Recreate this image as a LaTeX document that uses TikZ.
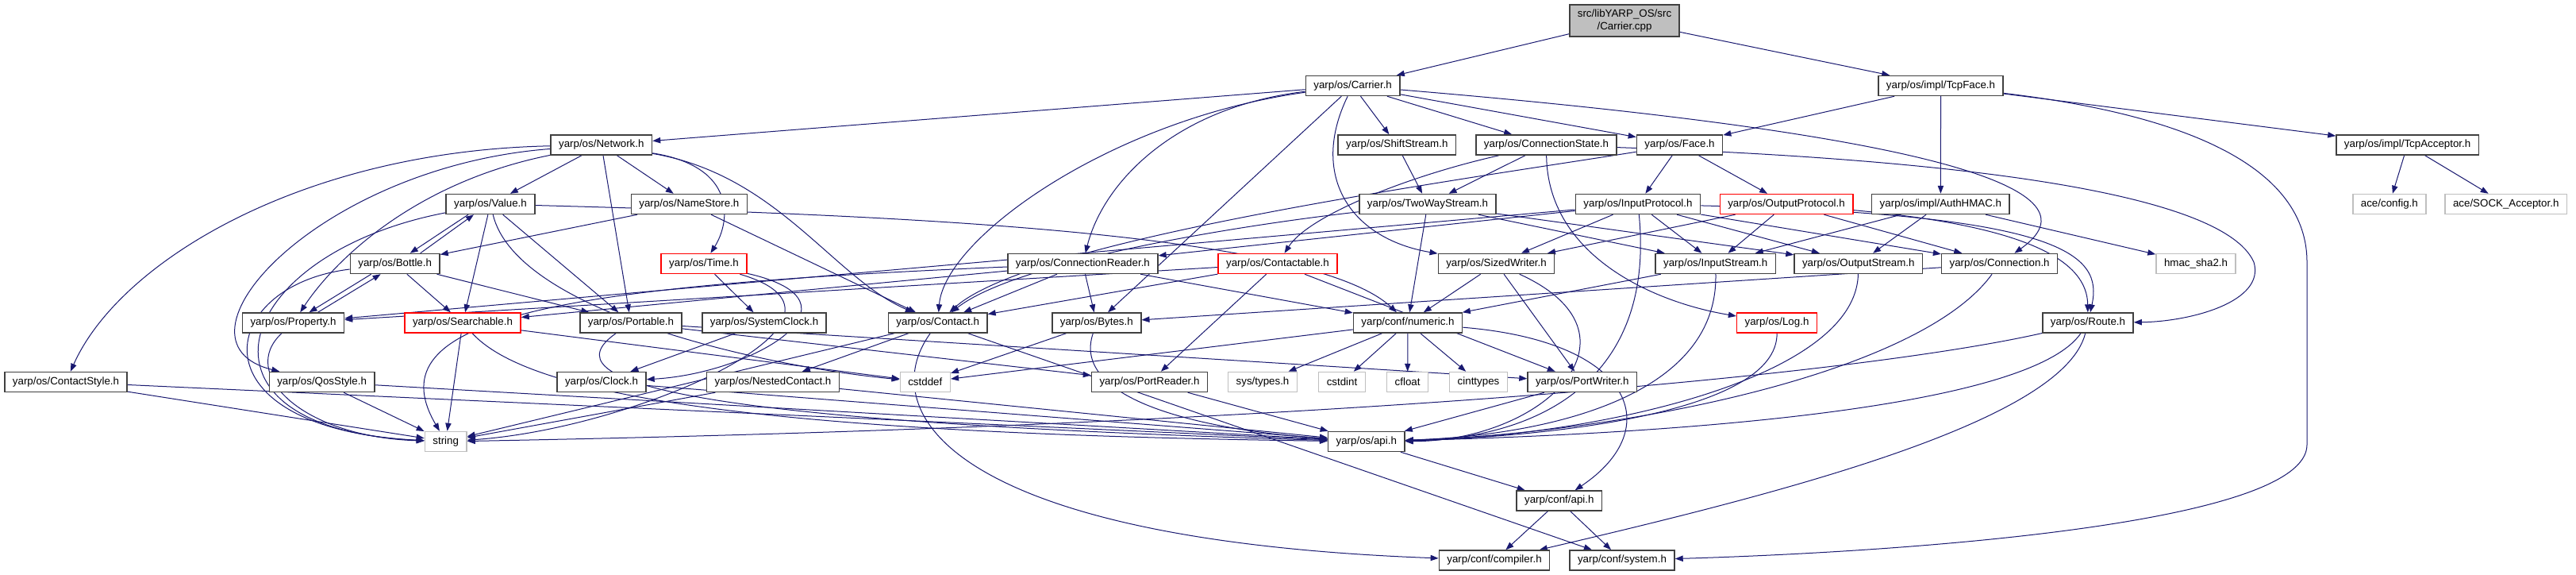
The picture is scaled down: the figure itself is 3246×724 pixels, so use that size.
\documentclass[tikz,border=0pt]{standalone}
\usepackage{fontspec}
\setmainfont{Liberation Sans}
\usetikzlibrary{arrows.meta,backgrounds}
\definecolor{edgeBlue}{RGB}{25,25,112}
\definecolor{boxGray}{RGB}{191,191,191}
\definecolor{boxDark}{RGB}{64,64,64}
\definecolor{boxRed}{RGB}{255,0,0}

\begin{document}
\begin{tikzpicture}[x=0.75pt, y=-0.75pt,
    hdr/.style={draw=boxDark, line width=1.1pt, fill=white, minimum height=18.75pt,
      inner xsep=7.5pt, inner ysep=1pt, font=\fontsize{10}{12}\selectfont},
    hdrred/.style={hdr, draw=boxRed},
    sysinc/.style={hdr, draw=boxGray},
    inc/.style={edgeBlue, line width=0.75pt, -{Triangle[length=7.5pt,width=5.5pt]}}]

  \useasboundingbox (0,0) rectangle (3246,724);

  % the file itself
  \node[hdr, fill=boxGray, align=center, minimum height=30pt] (cpp) at (2047,26) {src/libYARP\_OS/src\\/Carrier.cpp};

  \node[hdr] (carrier) at (1704.6,108) {yarp/os/Carrier.h};
  \node[hdr] (tcpface) at (2445.5,108) {yarp/os/impl/TcpFace.h};

  \node[hdr] (network) at (757.8,182.5) {yarp/os/Network.h};
  \node[hdr] (shift) at (1760.3,182.5) {yarp/os/ShiftStream.h};
  \node[hdr] (connstate) at (1948.5,182.5) {yarp/os/ConnectionState.h};
  \node[hdr] (face) at (2116.5,182.5) {yarp/os/Face.h};
  \node[hdr] (tcpacc) at (3033.6,182.5) {yarp/os/impl/TcpAcceptor.h};

  \node[hdr] (value) at (618,257) {yarp/os/Value.h};
  \node[hdr] (namestore) at (868.4,257) {yarp/os/NameStore.h};
  \node[hdr] (twoway) at (1799,257) {yarp/os/TwoWayStream.h};
  \node[hdr] (inproto) at (2064,257) {yarp/os/InputProtocol.h};
  \node[hdrred] (outproto) at (2251,257) {yarp/os/OutputProtocol.h};
  \node[hdr] (authhmac) at (2445.4,257) {yarp/os/impl/AuthHMAC.h};
  \node[sysinc] (aceconfig) at (3010.8,257) {ace/config.h};
  \node[sysinc] (sockacc) at (3157.7,257) {ace/SOCK\_Acceptor.h};

  \node[hdr] (bottle) at (497.7,332) {yarp/os/Bottle.h};
  \node[hdrred] (time) at (887,332) {yarp/os/Time.h};
  \node[hdr] (connreader) at (1364.4,332) {yarp/os/ConnectionReader.h};
  \node[hdrred] (contactable) at (1610,332) {yarp/os/Contactable.h};
  \node[hdr] (sizedwriter) at (1885.5,332) {yarp/os/SizedWriter.h};
  \node[hdr] (instream) at (2161.7,332) {yarp/os/InputStream.h};
  \node[hdr] (outstream) at (2341.8,332) {yarp/os/OutputStream.h};
  \node[hdr] (connection) at (2519.6,332) {yarp/os/Connection.h};
  \node[sysinc] (hmac) at (2767,332) {hmac\_sha2.h};

  \node[hdr] (property) at (369.5,406.5) {yarp/os/Property.h};
  \node[hdrred] (searchable) at (583,406.5) {yarp/os/Searchable.h};
  \node[hdr] (portable) at (795,406.5) {yarp/os/Portable.h};
  \node[hdr] (sysclock) at (963,406.5) {yarp/os/SystemClock.h};
  \node[hdr] (contact) at (1181.7,406.5) {yarp/os/Contact.h};
  \node[hdr] (bytes) at (1381.8,406.5) {yarp/os/Bytes.h};
  \node[hdr] (numeric) at (1774,406.5) {yarp/conf/numeric.h};
  \node[hdrred] (log) at (2239,406.5) {yarp/os/Log.h};
  \node[hdr] (route) at (2631,406.5) {yarp/os/Route.h};

  \node[hdr] (contactstyle) at (83,481) {yarp/os/ContactStyle.h};
  \node[hdr] (qosstyle) at (405.6,481) {yarp/os/QosStyle.h};
  \node[hdr] (clock) at (758,481) {yarp/os/Clock.h};
  \node[hdr] (nested) at (974,481) {yarp/os/NestedContact.h};
  \node[sysinc] (cstddef) at (1165.8,481) {cstddef};
  \node[hdr] (portreader) at (1448.5,481) {yarp/os/PortReader.h};
  \node[sysinc] (systypes) at (1591,481) {sys/types.h};
  \node[sysinc] (cstdint) at (1691,481) {cstdint};
  \node[sysinc] (cfloat) at (1773.6,481) {cfloat};
  \node[sysinc] (cinttypes) at (1863,481) {cinttypes};
  \node[hdr] (portwriter) at (1993.8,481) {yarp/os/PortWriter.h};

  \node[sysinc] (string) at (561.7,556) {string};
  \node[hdr] (osapi) at (1721.8,556) {yarp/os/api.h};
  \node[hdr] (confapi) at (1964.8,630.5) {yarp/conf/api.h};
  \node[hdr] (compiler) at (1883,705.5) {yarp/conf/compiler.h};
  \node[hdr] (system) at (2044,705.5) {yarp/conf/system.h};

  \begin{pgfonlayer}{background}
    % straight includes
    \foreach \t in {carrier,tcpface} \draw[inc] (cpp) -- (\t);
    \foreach \t in {face,authhmac,tcpacc} \draw[inc] (tcpface) -- (\t);
    \foreach \t in {aceconfig,sockacc} \draw[inc] (tcpacc) -- (\t);
    \foreach \t in {network,shift,connstate,face,bytes} \draw[inc] (carrier) -- (\t);
    \foreach \t in {value,namestore,portable} \draw[inc] (network) -- (\t);
    \draw[inc] (shift) -- (twoway);
    \draw[inc] (connstate) -- (twoway);
    \foreach \t in {inproto,outproto} \draw[inc] (face) -- (\t);
    \foreach \t in {searchable,portable} \draw[inc] (value) -- (\t);
    \foreach \t in {bottle,contact} \draw[inc] (namestore) -- (\t);
    \foreach \t in {numeric,instream,outstream} \draw[inc] (twoway) -- (\t);
    \foreach \t in {connreader,property,sizedwriter,instream,outstream,connection} \draw[inc] (inproto) -- (\t);
    \foreach \t in {sizedwriter,instream,connection} \draw[inc] (outproto) -- (\t);
    \foreach \t in {instream,outstream,hmac} \draw[inc] (authhmac) -- (\t);
    \foreach \t in {searchable,portable} \draw[inc] (bottle) -- (\t);
    \draw[inc] (time) -- (sysclock);
    \foreach \t in {contact,bytes,numeric,searchable} \draw[inc] (connreader) -- (\t);
    \foreach \t in {contact,portreader,portwriter,property} \draw[inc] (contactable) -- (\t);
    \foreach \t in {numeric,portwriter} \draw[inc] (sizedwriter) -- (\t);
    \draw[inc] (instream) -- (numeric);
    \draw[inc] (connection) -- (bytes);
    \foreach \t in {string,cstddef} \draw[inc] (searchable) -- (\t);
    \foreach \t in {portreader,portwriter} \draw[inc] (portable) -- (\t);
    \draw[inc] (sysclock) -- (clock);
    \foreach \t in {nested,string,system} \draw[inc] (contact) -- (\t);
    \draw[inc] (bytes) -- (cstddef);
    \foreach \t in {systypes,cstdint,cfloat,cinttypes,cstddef} \draw[inc] (numeric) -- (\t);
    \foreach \s in {contactstyle,qosstyle,nested} \draw[inc] (\s) -- (string);
    \foreach \s in {contactstyle,qosstyle,clock,nested,portreader,portwriter} \draw[inc] (\s) -- (osapi);
    \draw[inc] (osapi) -- (confapi);
    \foreach \t in {compiler,system} \draw[inc] (confapi) -- (\t);

    % cycles
    \draw[inc] ([xshift=-21pt]value.south) -- ([xshift=14.25pt]bottle.north);
    \draw[inc] ([xshift=24pt]bottle.north) -- ([xshift=-15.75pt]value.south);
    \draw[inc] ([xshift=-22.5pt]bottle.south) -- ([xshift=15pt]property.north);
    \draw[inc] ([xshift=23.25pt]property.north) -- ([xshift=-13.5pt]bottle.south);

    % curved includes
    \draw[inc] (carrier) .. controls (1480,135) and (1390,230) .. (connreader);
    \draw[inc] (carrier) .. controls (1400,150) and (1190,300) .. (contact);
    \draw[inc] (carrier) .. controls (1650,220) and (1700,300) .. (sizedwriter);
    \draw[inc] (carrier) .. controls (2450,170) and (2650,240) .. (connection);
    \draw[inc] (network) .. controls (380,190) and (150,330) .. (contactstyle);
    \draw[inc] (network) .. controls (400,210) and (200,430) .. (qosstyle);
    \draw[inc] (network) .. controls (520,230) and (420,330) .. (property);
    \draw[inc] (network) .. controls (930,210) and (920,280) .. (time);
    \draw[inc] (network) .. controls (980,220) and (1050,350) .. (contact);
    \draw[inc] (connstate) .. controls (1780,220) and (1650,270) .. (contactable);
    \draw[inc] (connstate) .. controls (1950,320) and (2080,380) .. (log);
    \draw[inc] (connstate) .. controls (2450,200) and (2800,240) .. (2840,330)
      .. controls (2855,380) and (2760,405) .. (route);
    \draw[inc] (face) .. controls (1850,225) and (1300,300) .. (contact);
    \draw[inc] (twoway) .. controls (1550,285) and (1280,330) .. (contact);
    \draw[inc] (inproto) .. controls (2600,270) and (2650,320) .. (route);
    \draw[inc] (outproto) .. controls (2560,285) and (2630,330) .. (route);
    \draw[inc] (value) .. controls (1100,270) and (1650,290) .. (numeric);
    \draw[inc] (value) .. controls (650,390) and (950,460) .. (cstddef);
    \draw[inc] (value) .. controls (290,320) and (220,540) .. (string);
    \draw[inc] (bottle) .. controls (270,360) and (240,540) .. (string);
    \draw[inc] (property) .. controls (300,470) and (380,550) .. (string);
    \draw[inc] (time) .. controls (1100,380) and (950,470) .. (clock);
    \draw[inc] (time) .. controls (1120,400) and (800,540) .. (string);
    \draw[inc] (connreader) .. controls (700,360) and (470,400) .. (string);
    \draw[inc] (contact) .. controls (1100,520) and (1200,680) .. (compiler);
    \draw[inc] (route) .. controls (2600,530) and (2250,620) .. (compiler);
    \draw[inc] (route) .. controls (2560,510) and (2150,545) .. (osapi);
    \draw[inc] (route) .. controls (2350,470) and (1700,535) .. (string);
    \draw[inc] (log) .. controls (2240,520) and (1950,550) .. (osapi);
    \draw[inc] (connection) .. controls (2420,470) and (2050,545) .. (osapi);
    \draw[inc] (instream) .. controls (2165,500) and (1950,548) .. (osapi);
    \draw[inc] (outstream) .. controls (2338,480) and (2000,550) .. (osapi);
    \draw[inc] (sizedwriter) .. controls (2080,420) and (1950,555) .. (osapi);
    \draw[inc] (inproto) .. controls (2085,470) and (1950,552) .. (osapi);
    \draw[inc] (bytes) .. controls (1350,500) and (1500,540) .. (osapi);
    \draw[inc] (searchable) .. controls (660,490) and (900,545) .. (osapi);
    \draw[inc] (portable) .. controls (690,480) and (850,530) .. (osapi);
    \draw[inc] (numeric) .. controls (2060,430) and (2100,540) .. (confapi);
    \draw[inc] (tcpface) .. controls (2800,150) and (2907,230) .. (2907,330)
      -- (2907,560) .. controls (2907,660) and (2400,695) .. (system);
  \end{pgfonlayer}
\end{tikzpicture}
\end{document}
